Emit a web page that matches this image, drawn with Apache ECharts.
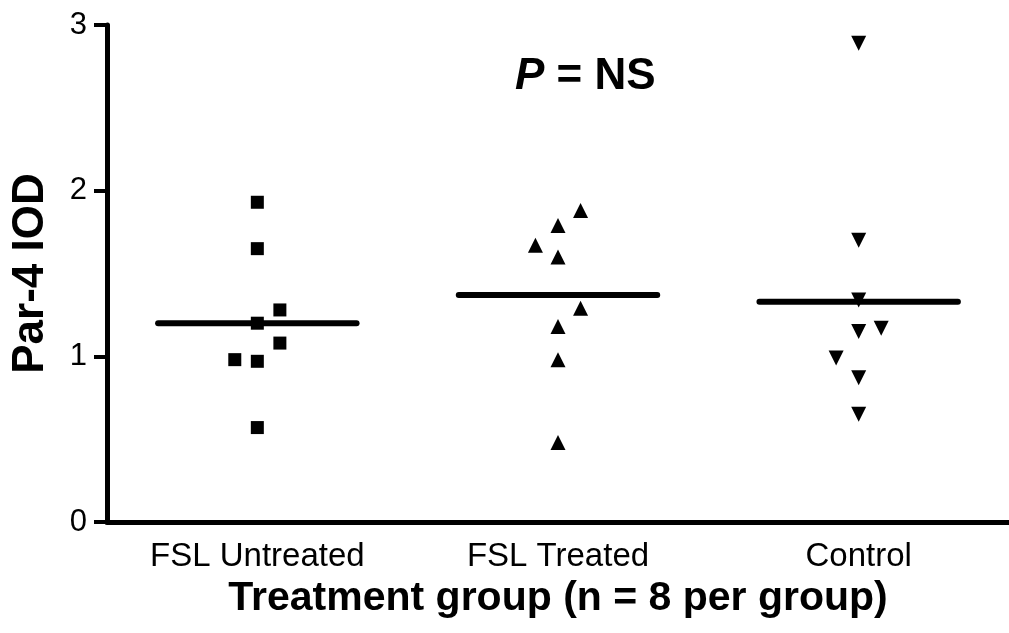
<!DOCTYPE html>
<html>
<head>
<meta charset="utf-8">
<script src="https://cdn.jsdelivr.net/npm/echarts@6/dist/echarts.min.js"></script>
<style>html,body{margin:0;padding:0;background:#fff}#c{width:1009px;height:633px}</style>
</head>
<body>
<div id="c"></div>
<script>
const categories = ['FSL Untreated', 'FSL Treated', 'Control'];
const yTicks = [0, 1, 2, 3];
// values per group (Par-4 IOD)
const fslUntreated = [1.93, 1.65, 1.28, 1.20, 1.08, 0.98, 0.97, 0.57];
const fslTreated   = [1.88, 1.79, 1.67, 1.60, 1.29, 1.18, 0.98, 0.48];
const control      = [2.89, 1.70, 1.34, 1.15, 1.17, 0.99, 0.87, 0.65];
// column within the scatter swarm (-1 left, 0 centre, 1 right)
const colUntreated = [0, 0, 1, 0, 1, -1, 0, 0];
const colTreated   = [1, 0, -1, 0, 1, 0, 0, 0];
const colControl   = [0, 0, 0, 0, 1, -1, 0, 0];
const medians = [1.20, 1.37, 1.33];

const dodge = 0.075;
const halfLine = 0.33;
const FONT = 'Liberation Sans, Arial, sans-serif';

function pts(groupIdx, vals, cols) {
  return vals.map((v, i) => [groupIdx + cols[i] * dodge, v]);
}
const groups = [
  {vals: fslUntreated, cols: colUntreated, symbol: 'rect', size: 13, rot: 0},
  {vals: fslTreated, cols: colTreated, symbol: 'triangle', size: 15, rot: 0},
  {vals: control, cols: colControl, symbol: 'triangle', size: 15, rot: 180}
];

const series = [];
groups.forEach((g, gi) => {
  series.push({
    type: 'scatter', xAxisIndex: 1, yAxisIndex: 0,
    symbol: g.symbol, symbolSize: g.size, symbolRotate: g.rot,
    itemStyle: {color: '#000', opacity: 1},
    data: pts(gi, g.vals, g.cols), z: 3
  });
});
medians.forEach((m, gi) => {
  series.push({
    type: 'line', xAxisIndex: 1, yAxisIndex: 0,
    showSymbol: false, symbol: 'none',
    lineStyle: {color: '#000', width: 6, cap: 'round'},
    data: [[gi - halfLine, m], [gi + halfLine, m]], z: 4
  });
});

const chart = echarts.init(document.getElementById('c'), null, {renderer: 'canvas'});
chart.setOption({
  animation: false,
  backgroundColor: '#fff',
  title: {
    text: '{i|P} = NS',
    left: 510, top: 50,
    textStyle: {
      fontFamily: FONT, fontSize: 44, fontWeight: 'bold', color: '#000',
      rich: {i: {fontFamily: FONT, fontSize: 44, fontWeight: 'bold', fontStyle: 'italic', color: '#000'}}
    }
  },
  grid: {left: 107, right: 0, top: 25, bottom: 111, containLabel: false, outerBoundsMode: 'none'},
  xAxis: [
    {
      type: 'category', data: categories, boundaryGap: true,
      axisLine: {show: true, onZero: false, lineStyle: {color: '#000', width: 5}},
      axisTick: {show: false},
      axisLabel: {color: '#000', fontFamily: FONT, fontSize: 33, margin: 18},
      name: 'Treatment group (n = 8 per group)',
      nameLocation: 'middle', nameGap: 52,
      nameTextStyle: {color: '#000', fontFamily: FONT, fontSize: 41, fontWeight: 'bold'}
    },
    {
      type: 'value', min: -0.5, max: 2.5, show: false
    }
  ],
  yAxis: {
    type: 'value', min: yTicks[0], max: yTicks[yTicks.length - 1], interval: 1,
    axisLine: {show: true, onZero: false, lineStyle: {color: '#000', width: 5}},
    axisTick: {show: true, length: 13, lineStyle: {color: '#000', width: 4}},
    splitLine: {show: false},
    axisLabel: {color: '#000', fontFamily: FONT, fontSize: 31, margin: 20},
    name: 'Par-4 IOD', nameLocation: 'middle', nameGap: 54, nameRotate: 90,
    nameTextStyle: {color: '#000', fontFamily: FONT, fontSize: 44, fontWeight: 'bold'}
  },
  series: series
});
</script>
</body>
</html>
